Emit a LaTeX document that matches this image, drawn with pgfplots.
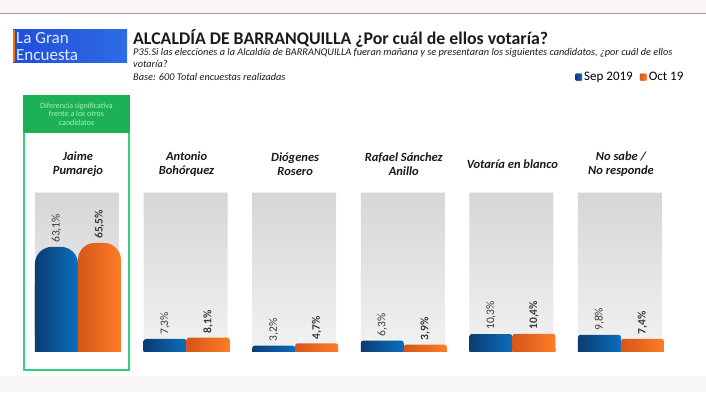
\documentclass[border=0pt]{standalone}
\usepackage{graphicx}
\usepackage{pgfplots}
\pgfplotsset{compat=1.18}
\usepackage{fontspec}
\setmainfont{Carlito}
\definecolor{bluedark}{HTML}{0C3C73}
\definecolor{bluelight}{HTML}{0A6FBD}
\definecolor{orgdark}{HTML}{D4561A}
\definecolor{orglight}{HTML}{FF7D26}
\definecolor{legblue}{HTML}{13579B}
\definecolor{legorg}{HTML}{F47A2A}
\definecolor{paneltop}{HTML}{D6D6D6}
\definecolor{panelmid}{HTML}{EFEFEF}
\definecolor{panelbot}{HTML}{F2F2F2}
\definecolor{gbox}{HTML}{33D17F}
\definecolor{ghead}{HTML}{1DB155}
\definecolor{gtext}{HTML}{A5F2C0}
\definecolor{logoA}{HTML}{1F4FD8}
\definecolor{logoB}{HTML}{2E6BE6}
\definecolor{logotxt}{HTML}{E4ECFF}
\definecolor{band}{HTML}{FBF6F6}
\definecolor{lbl}{HTML}{3A3A3A}
\definecolor{ttl}{HTML}{1A1A1A}
\pgfplotsset{
  lab/.style={
    nodes near coords={\rotatebox{90}{\pgfmathprintnumber[fixed,fixed zerofill,precision=1,use comma]{\pgfplotspointmeta}\%}},
    every node near coord/.append style={anchor=south, xshift=-21.5pt, inner ysep=4pt, inner xsep=0pt, text=lbl, font=\fontsize{11.5}{12}\selectfont}},
  labb/.style={
    nodes near coords={\rotatebox{90}{\pgfmathprintnumber[fixed,fixed zerofill,precision=1,use comma]{\pgfplotspointmeta}\%}},
    every node near coord/.append style={anchor=south, xshift=21.5pt, inner ysep=4pt, inner xsep=0pt, text=lbl, font=\bfseries\fontsize{11.5}{12}\selectfont}},
  sepbar/.style={ybar, bar width=43pt, bar shift=-21.5pt, draw=none, left color=bluedark, right color=bluelight},
  octbar/.style={ybar, bar width=43pt, bar shift=21.5pt, draw=none, left color=orgdark, right color=orglight},
}
\begin{document}
\begin{tikzpicture}[x=1pt,y=1pt]
\useasboundingbox (0,0) rectangle (706,392);
\fill[white] (0,0) rectangle (706,392);
\fill[band] (0,379) rectangle (706,392);
\draw[gray!75, line width=1pt] (0,378.5) -- (706,378.5);
\fill[band] (0,0) rectangle (706,16);
% logo
\shade[left color=logoA, right color=logoB] (13,330) rectangle (127,362);
\draw[orange!85!red, line width=1.5pt] (13.75,330) -- (13.75,362);
\node[anchor=base west, text=logotxt, font=\fontsize{17}{17}\selectfont, inner sep=0pt] at (16,348.5) {La Gran};
\node[anchor=base west, text=logotxt, font=\fontsize{17}{17}\selectfont, inner sep=0pt] at (16,332) {Encuesta};
% titles
\node[anchor=west, inner sep=0pt, text=ttl, font=\bfseries\fontsize{17.8}{21}\selectfont] at (133,354) {ALCALDÍA DE BARRANQUILLA ¿Por cuál de ellos votaría?};
\node[anchor=north west, inner sep=0pt, text=ttl, align=left, font=\itshape\fontsize{10.3}{12.6}\selectfont] at (133,344) {P35.Si las elecciones a la Alcaldía de BARRANQUILLA fueran mañana y se presentaran los siguientes candidatos, ¿por cuál de ellos\\votaría?\\Base: 600 Total encuestas realizadas};
\begin{axis}[
  at={(12.8pt,41pt)}, anchor=south west,
  scale only axis,
  x=108.6pt, y=1.65pt,
  xmin=-0.6, xmax=5.6, ymin=0, ymax=100,
  axis line style={draw=none},
  tick style={draw=none},
  ytick=\empty,
  xtick={0,1,2,3,4,5},
  xticklabels={{Jaime\\Pumarejo},{Antonio\\Bohórquez},{Diógenes\\Rosero},{Rafael Sánchez\\Anillo},{Votaría en blanco},{No sabe /\\No responde}},
  xticklabel pos=right,
  xticklabel style={anchor=center, yshift=22pt, align=center, text=ttl, font=\bfseries\itshape\fontsize{12.5}{14}\selectfont},
  /pgf/number format/assume math mode=true,
  legend style={at={(0.835,1.66)}, anchor=west, draw=none, fill=none, inner xsep=0pt, font=\fontsize{13}{14}\selectfont},
  legend columns=2,
  legend cell align=left,
  /tikz/every even column/.append style={column sep=5pt},
]
% background panels
\addplot[ybar, bar width=84pt, bar shift=-1pt, draw=none, top color=paneltop, middle color=panelmid, bottom color=panelbot, forget plot]
  coordinates {(0,96) (1,96) (2,96) (3,96) (4,96) (5,96)};
% ---- Sep 2019 (one plot per bar, so that each bar has its own gradient)
\addplot[sepbar, lab, rounded corners=17pt,
  legend image code/.code={\fill[legblue, rounded corners=1pt] (0pt,-3.5pt) rectangle (7pt,3.5pt);}]
  coordinates {(0,63.1)};
\addlegendentry{Sep 2019}
\addplot[sepbar, forget plot] coordinates {(0,40)};
\addplot[sepbar, lab, rounded corners=2.5pt, forget plot] coordinates {(1,7.3)};
\addplot[sepbar, forget plot] coordinates {(1,1.6)};
\addplot[sepbar, lab, rounded corners=2.5pt, forget plot] coordinates {(2,3.2)};
\addplot[sepbar, forget plot] coordinates {(2,1.6)};
\addplot[sepbar, lab, rounded corners=2.5pt, forget plot] coordinates {(3,6.3)};
\addplot[sepbar, forget plot] coordinates {(3,1.6)};
\addplot[sepbar, lab, rounded corners=2.5pt, forget plot] coordinates {(4,10.3)};
\addplot[sepbar, forget plot] coordinates {(4,1.6)};
\addplot[sepbar, lab, rounded corners=2.5pt, forget plot] coordinates {(5,9.8)};
\addplot[sepbar, forget plot] coordinates {(5,1.6)};
% ---- Oct 19
\addplot[octbar, labb, rounded corners=17pt,
  legend image code/.code={\fill[legorg, rounded corners=1pt] (0pt,-3.5pt) rectangle (7pt,3.5pt);}]
  coordinates {(0,65.5)};
\addlegendentry{Oct 19}
\addplot[octbar, forget plot] coordinates {(0,40)};
\addplot[octbar, labb, rounded corners=2.5pt, forget plot] coordinates {(1,8.1)};
\addplot[octbar, forget plot] coordinates {(1,1.6)};
\addplot[octbar, labb, rounded corners=2.5pt, forget plot] coordinates {(2,4.7)};
\addplot[octbar, forget plot] coordinates {(2,1.6)};
\addplot[octbar, labb, rounded corners=2.5pt, forget plot] coordinates {(3,3.9)};
\addplot[octbar, forget plot] coordinates {(3,1.6)};
\addplot[octbar, labb, rounded corners=2.5pt, forget plot] coordinates {(4,10.4)};
\addplot[octbar, forget plot] coordinates {(4,1.6)};
\addplot[octbar, labb, rounded corners=2.5pt, forget plot] coordinates {(5,7.4)};
\addplot[octbar, forget plot] coordinates {(5,1.6)};
\end{axis}
% green highlight box
\fill[ghead] (23,297) rectangle (130,259);
\draw[gbox, line width=1.8pt] (23.9,259) -- (23.9,22) -- (129.1,22) -- (129.1,259);
\node[text=gtext, align=center, inner sep=0pt, font=\fontsize{8}{8.6}\selectfont] at (76.5,278) {Diferencia significativa\\frente a los otros\\candidatos};
\end{tikzpicture}
\end{document}
